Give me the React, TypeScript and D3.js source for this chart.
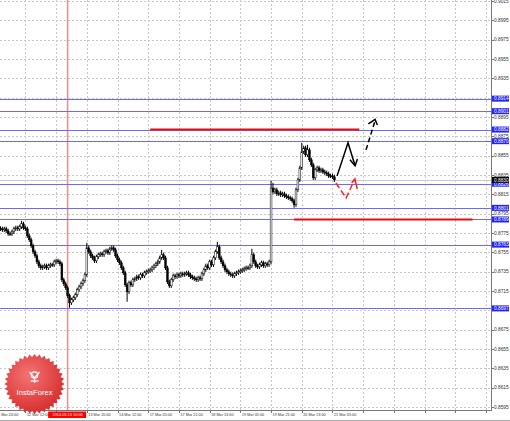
import React from "react";
import * as d3 from "d3";

const W = 510;
const H = 421;

// hourly closes, bar index starts at FIRST_BAR (bar 0 = 11 Mar 20:00)
const FIRST_BAR = 3;
const closes = [
  0.87793, 0.87783, 0.87793, 0.87772, 0.87742, 0.87742, 0.87762, 0.87793, 0.87804, 0.87793, 0.87814,
  0.87845, 0.87804, 0.87793, 0.87721, 0.8768, 0.87618, 0.87556, 0.87514, 0.87452, 0.87411, 0.8739,
  0.874, 0.87411, 0.8739, 0.87411, 0.87421, 0.87421, 0.87452, 0.87462, 0.87452, 0.87431, 0.87266,
  0.87225, 0.87183, 0.87101, 0.87028, 0.87059, 0.8708, 0.87111, 0.87163, 0.87193, 0.87225, 0.87256,
  0.87318, 0.87597, 0.87556, 0.87514, 0.87493, 0.87462, 0.87504, 0.87525, 0.87535, 0.87525, 0.87556,
  0.87566, 0.87545, 0.87587, 0.87597, 0.87576, 0.87514, 0.87473, 0.87442, 0.8739, 0.87338, 0.87214,
  0.87142, 0.87235, 0.87214, 0.87266, 0.87276, 0.87297, 0.87287, 0.87318, 0.87307, 0.87338, 0.87349,
  0.87359, 0.87369, 0.8739, 0.87411, 0.87431, 0.87452, 0.87493, 0.87525, 0.87493, 0.8739, 0.87245,
  0.87204, 0.87266, 0.87307, 0.87297, 0.87318, 0.87307, 0.87328, 0.87318, 0.87328, 0.87338, 0.87318,
  0.87297, 0.87287, 0.87276, 0.87266, 0.87287, 0.87276, 0.87328, 0.87369, 0.87411, 0.8739, 0.87452,
  0.87421, 0.87493, 0.87556, 0.87607, 0.87493, 0.87452, 0.87411, 0.87369, 0.87349, 0.87328, 0.87318,
  0.87307, 0.87328, 0.87338, 0.87349, 0.87359, 0.87369, 0.8738, 0.8739, 0.8739, 0.87411, 0.87525,
  0.87452, 0.87411, 0.874, 0.87421, 0.87442, 0.87411, 0.87431, 0.87421, 0.87452, 0.88215, 0.88176,
  0.88197, 0.88155, 0.88166, 0.88145, 0.88155, 0.88135, 0.88124, 0.88114, 0.88104, 0.88083, 0.88042,
  0.88197, 0.883, 0.88424, 0.8859, 0.88631, 0.88559, 0.8861, 0.88507, 0.88455, 0.88321, 0.88403,
  0.88424, 0.88393, 0.88403, 0.88383, 0.88373, 0.88362, 0.88341, 0.88341, 0.88331, 0.883,
];
const wickHighs: [number, number][] = [
  [14, 0.87876], [48, 0.87649], [87, 0.87576], [116, 0.87659], [134, 0.87587],
  [144, 0.8829], [145, 0.88269], [160, 0.88683], [163, 0.88662],
];
const wickLows: [number, number][] = [[39, 0.86977], [69, 0.87039], [156, 0.88011]];

const priceTicks = [
  "0.9015", "0.8995", "0.8975", "0.8955", "0.8935", "0.8915", "0.8895", "0.8875", "0.8855", "0.8835",
  "0.8815", "0.8795", "0.8775", "0.8755", "0.8735", "0.8715", "0.8695", "0.8675", "0.8655", "0.8635",
  "0.8615", "0.8595",
];
const timeTicks: [number, string][] = [
  [0, "11 Mar 20:00"], [16, "12 Mar 12:00"], [32, ""], [48, "13 Mar 20:00"],
  [64, "14 Mar 12:00"], [80, "17 Mar 05:00"], [96, "17 Mar 21:00"], [112, "18 Mar 13:00"],
  [128, "19 Mar 05:00"], [144, "19 Mar 21:00"], [160, "20 Mar 13:00"], [176, "21 Mar 05:00"],
  [192, ""], [208, ""], [224, ""], [240, ""], [256, ""],
];
const levelLines = [0.8914, 0.8901, 0.8882, 0.887, 0.8826, 0.8801, 0.8789, 0.8763, 0.8697];
const currentPrice = 0.883;
const redLevels: [number, number, number][] = [[0.8882, 81, 190], [0.8789, 156, 249]];
const markerBar = 38;
const markerLabel = "2014.03.13 10:00";

const blackPath: [number, number][] = [[178.4, 0.88341], [184.1, 0.88683], [187.8, 0.88445]];
const blackHead: [number, number][] = [[185.1, 0.88507], [187.8, 0.88445], [189.0, 0.88515]];
const dashPath: [number, number][] = [[193.5, 0.8861], [198.2, 0.88912]];
const dashHead: [number, number][] = [[194.7, 0.88878], [198.2, 0.88926], [199.4, 0.88867]];
const redPath: [number, number][] = [[177.8, 0.88267], [183.1, 0.88112], [187.7, 0.88309]];
const redHead: [number, number][] = [[186.0, 0.88267], [187.7, 0.88309], [188.9, 0.88205]];

const AXIS_X = 491;
const AXIS_Y = 410;

export default function App() {
  const x = d3.scaleLinear().domain([0, 256]).range([-5.3, 486.0]);
  const y = d3.scaleLinear().domain([0.8595, 0.9015]).range([407, 1]);
  const line = d3
    .line<[number, number]>()
    .x((d) => x(d[0]))
    .y((d) => y(d[1]));

  const hiMap = new Map(wickHighs);
  const loMap = new Map(wickLows);
  const bars = closes.map((c, k) => {
    const i = FIRST_BAR + k;
    const o = k === 0 ? c + 0.00005 : closes[k - 1];
    const hi = hiMap.get(i) ?? Math.max(o, c) + 0.00022;
    const lo = loMap.get(i) ?? Math.min(o, c) - 0.00022;
    return { i, o, c, hi, lo };
  });

  // hide tick labels fully covered by a highlighted box
  const visibleTicks = priceTicks.filter(
    (t) => !levelLines.some((p) => Math.abs(y(p) - y(+t)) < 2.5)
  );

  // starburst seal
  const cx = 34.5, cy = 384;
  const nPts = 36;
  const seal = d3.range(nPts * 2).map((k) => {
    const a = (k / (nPts * 2)) * Math.PI * 2;
    const r = k % 2 === 0 ? 30 : 27;
    return [cx + r * Math.sin(a), cy - r * Math.cos(a)] as [number, number];
  });

  const font = "'Liberation Sans', Arial, sans-serif";

  return (
    <div style={{ position: "absolute", left: 0, top: 0, width: W, height: H, background: "#fff" }}>
      <svg width={W} height={H} style={{ display: "block" }}>
        <defs>
          <radialGradient id="sealg" cx="40%" cy="35%" r="70%">
            <stop offset="0%" stopColor="#f57373" />
            <stop offset="100%" stopColor="#d42a2a" />
          </radialGradient>
          <clipPath id="plot">
            <rect x={0} y={0} width={AXIS_X} height={AXIS_Y} />
          </clipPath>
        </defs>
        <rect x={0} y={0} width={W} height={H} fill="#fff" />

        {/* grid */}
        <g stroke="#c8c8c8" strokeWidth={1} strokeDasharray="2,2" shapeRendering="crispEdges">
          {priceTicks.map((t) => (
            <line key={t} x1={0} x2={AXIS_X} y1={Math.round(y(+t)) + 0.5} y2={Math.round(y(+t)) + 0.5} />
          ))}
          {timeTicks.map(([b]) => (
            <line key={b} x1={Math.round(x(b)) + 0.5} x2={Math.round(x(b)) + 0.5} y1={0} y2={AXIS_Y} />
          ))}
        </g>

        {/* marker vertical line */}
        <line x1={x(markerBar)} x2={x(markerBar)} y1={0} y2={AXIS_Y} stroke="#f48a8a" strokeWidth={1.5} />

        {/* current price line */}
        <line
          x1={0}
          x2={AXIS_X}
          y1={Math.round(y(currentPrice)) + 0.5}
          y2={Math.round(y(currentPrice)) + 0.5}
          stroke="#c8c8c8"
          strokeWidth={1}
          shapeRendering="crispEdges"
        />

        {/* blue levels */}
        <g stroke="#6a6aff" strokeWidth={1} shapeRendering="crispEdges">
          {levelLines.map((p) => (
            <line key={p} x1={0} x2={AXIS_X} y1={Math.round(y(p)) + 0.5} y2={Math.round(y(p)) + 0.5} />
          ))}
        </g>

        {/* candles */}
        <g clipPath="url(#plot)">
          {bars.map((b) => {
            const bx = x(b.i);
            const top = y(Math.max(b.o, b.c));
            const bot = y(Math.min(b.o, b.c));
            const up = b.c > b.o;
            return (
              <g key={b.i}>
                <line x1={bx} x2={bx} y1={y(b.hi)} y2={y(b.lo)} stroke="#000" strokeWidth={1} />
                <rect
                  x={bx - 0.9}
                  y={top}
                  width={1.8}
                  height={Math.max(0.6, bot - top)}
                  fill={up ? "#ffffff" : "#000"}
                  stroke="#000"
                  strokeWidth={0.5}
                />
              </g>
            );
          })}
        </g>

        {/* red levels */}
        <g stroke="#e01010" strokeWidth={2}>
          {redLevels.map(([p, a, b]) => (
            <line key={p} x1={x(a)} x2={x(b)} y1={y(p)} y2={y(p)} />
          ))}
        </g>

        {/* annotations */}
        <g fill="none" strokeLinejoin="miter">
          <path d={line(blackPath) || ""} stroke="#000" strokeWidth={1.5} />
          <path d={line(blackHead) || ""} stroke="#000" strokeWidth={1.5} />
          <path d={line(dashPath) || ""} stroke="#000" strokeWidth={1.5} strokeDasharray="5,3" />
          <path d={line(dashHead) || ""} stroke="#000" strokeWidth={1.5} />
          <path d={line(redPath) || ""} stroke="#ff2020" strokeWidth={1.5} strokeDasharray="6,3" />
          <path d={line(redHead) || ""} stroke="#ff2020" strokeWidth={1.5} />
        </g>

        {/* axes frame */}
        <g stroke="#777" strokeWidth={1} shapeRendering="crispEdges">
          <line x1={AXIS_X + 0.5} x2={AXIS_X + 0.5} y1={0} y2={AXIS_Y + 1} />
          <line x1={0} x2={AXIS_X + 1} y1={AXIS_Y + 0.5} y2={AXIS_Y + 0.5} />
          <line x1={0} x2={W} y1={H - 0.5} y2={H - 0.5} stroke="#aaa" />
          {priceTicks.map((t) => (
            <line key={t} x1={AXIS_X} x2={AXIS_X + 3} y1={Math.round(y(+t)) + 0.5} y2={Math.round(y(+t)) + 0.5} />
          ))}
          {timeTicks.map(([b]) => (
            <line key={b} x1={Math.round(x(b)) + 0.5} x2={Math.round(x(b)) + 0.5} y1={AXIS_Y} y2={AXIS_Y + 3} />
          ))}
        </g>

        {/* seal logo */}
        <g>
          <polygon points={seal.map((p) => p.join(",")).join(" ")} fill="url(#sealg)" />
          <g stroke="#fff" strokeWidth={1.2} fill="none">
            <circle cx={cx} cy={cy - 9} r={3.2} />
            <path d={`M${cx - 5},${cy - 12} L${cx},${cy - 6} L${cx + 5},${cy - 12}`} />
            <path d={`M${cx},${cy - 6} L${cx},${cy - 1}`} />
            <path d={`M${cx - 4},${cy - 3} L${cx + 4},${cy - 3}`} />
          </g>
          <text x={cx} y={cy + 11} textAnchor="middle" fill="#fff" fontSize={7.6} fontFamily={font}>
            InstaForex
          </text>
        </g>

        {/* price labels */}
        <g fontFamily={font} fontSize={4.8} fill="#333">
          {visibleTicks.map((t) => (
            <text key={t} x={AXIS_X + 3} y={y(+t) + 1.8}>
              {t}
            </text>
          ))}
        </g>
        {levelLines.map((p) => (
          <g key={p}>
            <rect x={AXIS_X + 1} y={y(p) - 3} width={17} height={6} fill="#2222ff" />
            <text x={AXIS_X + 3} y={y(p) + 1.8} fontFamily={font} fontSize={4.8} fill="#fff">
              {p.toFixed(4)}
            </text>
          </g>
        ))}
        <g>
          <rect x={AXIS_X + 1} y={y(currentPrice) - 3} width={17} height={6} fill="#000" />
          <text x={AXIS_X + 3} y={y(currentPrice) + 1.8} fontFamily={font} fontSize={4.8} fill="#fff">
            {currentPrice.toFixed(4)}
          </text>
        </g>

        {/* time labels */}
        <g fontFamily={font} fontSize={3.8} fill="#333">
          {timeTicks.map(([b, l]) => (
            <text key={b} x={x(b) + 1.5} y={AXIS_Y + 6}>
              {l}
            </text>
          ))}
        </g>
        <g>
          <rect x={x(markerBar) - 19.5} y={AXIS_Y + 1.5} width={38} height={6.5} fill="#ff0000" />
          <text
            x={x(markerBar)}
            y={AXIS_Y + 6.3}
            textAnchor="middle"
            fontFamily={font}
            fontSize={3.9}
            fill="#fff"
          >
            {markerLabel}
          </text>
        </g>
      </svg>
    </div>
  );
}
